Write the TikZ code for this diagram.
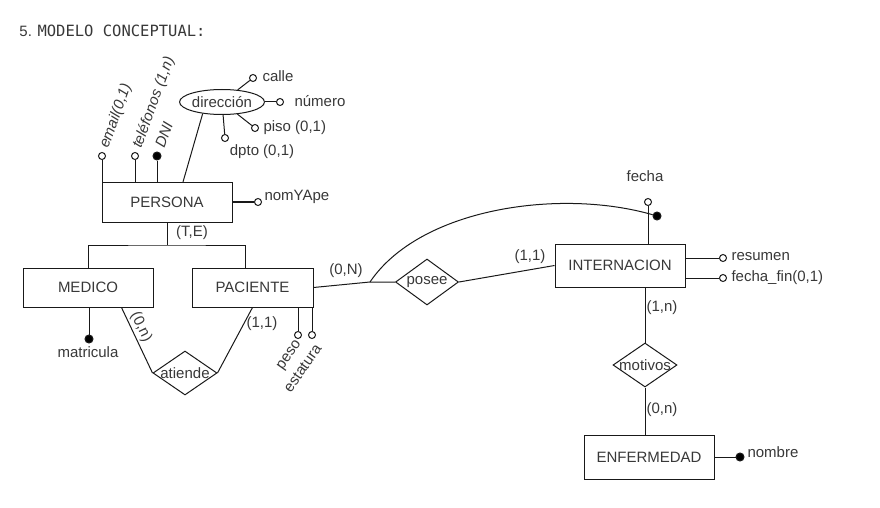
\documentclass[tikz,border=0pt]{standalone}
\usepackage{fontspec}
\setmainfont{Liberation Sans}
\newfontfamily\titlemono{DejaVu Sans Mono}
\usetikzlibrary{shapes.geometric}
\begin{document}
\begin{tikzpicture}[x=1pt,y=-1pt,line width=1pt,
  every node/.style={font=\fontsize{15}{17}\selectfont, text=black!78},
  ent/.style={draw=black!90, rectangle, inner sep=0pt},
  rel/.style={draw=black!90, diamond, inner sep=0pt, minimum width=64pt, minimum height=44pt},
  oat/.style={draw=black!90, circle, fill=white, inner sep=0pt, minimum size=7pt},
  kat/.style={draw=black!90, circle, fill=black, inner sep=0pt, minimum size=8pt},
  lbl/.style={inner sep=1pt},
  conn/.style={draw=black!90}]
\useasboundingbox (0,0) rectangle (880,508);

% title
\node[anchor=west, inner sep=0pt] (title) at (19,31) {\fontsize{15}{17}\selectfont 5. {\titlemono\fontsize{15.5}{17}\selectfont MODELO CONCEPTUAL:}};

% entities
\node[ent, minimum width=130pt, minimum height=40pt] (persona) at (167,202) {PERSONA};
\node[ent, minimum width=130pt, minimum height=39pt] (medico) at (88,287.5) {MEDICO};
\node[ent, minimum width=121pt, minimum height=39pt] (paciente) at (252.5,287.5) {PACIENTE};
\node[ent, minimum width=130pt, minimum height=43pt] (internacion) at (620,265.5) {INTERNACION};
\node[ent, minimum width=130pt, minimum height=44pt] (enfermedad) at (649,457) {ENFERMEDAD};

% relationships
\node[rel] (atiende) at (185,373) {\makebox[0pt]{atiende}};
\node[rel, minimum width=63pt, minimum height=46pt] (posee) at (427,282) {\makebox[0pt]{posee}};
\node[rel] (motivos) at (645,365) {\makebox[0pt]{motivos}};

% persona attributes
\node[oat] (email) at (102,156) {};
\node[oat] (tel) at (135,156) {};
\node[kat] (dni) at (157,156) {};
\draw[conn] (persona.north -| email) -- (email);
\draw[conn] (persona.north -| tel) -- (tel);
\draw[conn] (persona.north -| dni) -- (dni);
\node[lbl, rotate=70, anchor=west] (emaillbl) at (104,149) {\textit{email(0,1)}};
\node[lbl, rotate=70, anchor=west] (tellbl) at (137,149) {\textit{teléfonos (1,n)}};
\node[lbl, rotate=70, anchor=west] (dnilbl) at (159,148) {\textit{DNI}};

\node[draw=black!90, ellipse, inner sep=0pt, minimum width=80pt, minimum height=25pt] (dir) at (222,102) {dirección};
\coordinate (dirp) at (183,182);
\draw[conn] (dir.-149) -- (dirp);
\node[oat] (calle) at (253,78) {};
\node[oat] (numero) at (280,102) {};
\node[oat] (piso) at (255,128) {};
\node[oat] (dpto) at (225,138) {};
\draw[conn] (dir) -- (calle);
\draw[conn] (dir) -- (numero);
\draw[conn] (dir) -- (piso);
\draw[conn] (dir) -- (dpto);
\node[lbl, anchor=west] (callelbl) at (261,76) {calle};
\node[lbl, anchor=west] (numerolbl) at (293,101) {número};
\node[lbl, anchor=west] (pisolbl) at (262,128) {piso (0,1)};
\node[lbl] (dptolbl) at (262,152) {dpto (0,1)};

\node[oat] (nom) at (258,202) {};
\draw[conn, line width=1.8pt] (persona.east) -- (nom);
\node[lbl, anchor=west] (nomlbl) at (263,197) {nomYApe};

% generalisation
\coordinate (te) at (167,245);
\draw[conn] (persona.south) -- (te);
\draw[conn] (medico.north) |- (te) -| ([xshift=-7.5pt]paciente.north);
\node[lbl] (telbl) at (192,233) {(T,E)};

% medico
\node[kat] (matr) at (89,339) {};
\draw[conn] (medico.south -| matr) -- (matr);
\node[lbl] (matrlbl) at (88,352) {matricula};

% atiende
\draw[conn] ([xshift=-32pt]medico.south east) -- (atiende.west);
\draw[conn] ([xshift=61pt]paciente.south west) -- (atiende.east);
\node[lbl, rotate=-64] (atl1) at (141,327) {(0,n)};
\node[lbl] (atl2) at (262,324) {(1,1)};

% paciente attributes
\node[oat] (peso) at (298,335) {};
\node[oat] (estatura) at (312,335) {};
\draw[conn] (paciente.south -| peso) -- (peso);
\draw[conn] (paciente.south -| estatura) -- (estatura);
\node[lbl, rotate=55, anchor=east] (pesolbl) at (300,341) {peso};
\node[lbl, rotate=55, anchor=east] (estlbl) at (319,345) {estatura};

% posee
\coordinate (split) at (370,282);
\draw[conn] (paciente.east) -- (split) -- (posee.west);
\draw[conn] (posee.east) -- (internacion.west);
\node[lbl] (pl1) at (346,271) {(0,N)};
\node[lbl] (pl2) at (530,257) {(1,1)};

% internacion attributes
\node[oat] (fecha) at (648,202) {};
\draw[conn] (internacion.north -| fecha) -- (fecha);
\node[lbl] (fechalbl) at (645,176) {fecha};
\node[kat] (fdot) at (657,216) {};
\draw[conn] (split) .. controls (420,208) and (560,188) .. (fdot);
\node[oat] (res) at (723,258) {};
\node[oat] (ffin) at (723,278) {};
\draw[conn] (internacion.east |- res) -- (res);
\draw[conn] (internacion.east |- ffin) -- (ffin);
\node[lbl, anchor=west] (reslbl) at (730,257) {resumen};
\node[lbl, anchor=west] (ffinlbl) at (730,278) {fecha\_fin(0,1)};

% motivos
\draw[conn] (motivos.north |- internacion.south) -- (motivos.north);
\draw[conn] (motivos.south) -- (motivos.south |- enfermedad.north);
\node[lbl, anchor=west] (ml1) at (645,308) {(1,n)};
\node[lbl, anchor=west] (ml2) at (645,410) {(0,n)};

% enfermedad
\node[kat] (nombre) at (740,457) {};
\draw[conn] (enfermedad.east) -- (nombre);
\node[lbl, anchor=west] (nombrelbl) at (746,452) {nombre};
\end{tikzpicture}
\end{document}
